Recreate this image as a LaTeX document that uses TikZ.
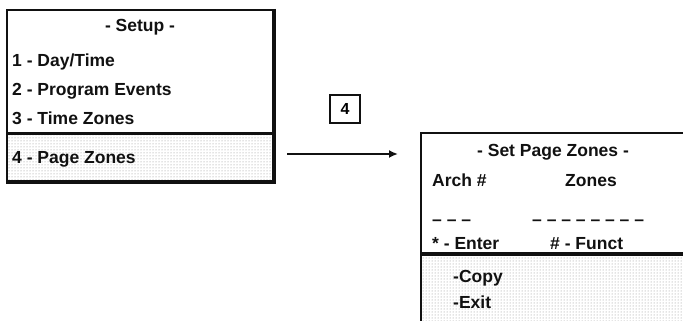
\documentclass[tikz,border=0pt]{standalone}
\usepackage{fontspec}
\setmainfont{Liberation Sans}
\usetikzlibrary{positioning,arrows.meta,patterns}
\definecolor{ink}{HTML}{111111}
\definecolor{dotgray}{HTML}{8A8A8A}

\begin{document}
\begin{tikzpicture}[
  x=1pt, y=1pt,
  font=\fontsize{17.5}{21}\selectfont\bfseries,
  frame/.style={draw=ink, line width=2.4pt, inner sep=0pt},
  shade/.style={pattern=dots, pattern color=dotgray, draw=none, inner sep=0pt},
  heavy/.style={draw=ink, line width=3.8pt},
  sepline/.style={draw=ink, line width=3.2pt},
  item/.style={anchor=base west, inner sep=0pt, text=ink},
  title/.style={anchor=base, inner sep=0pt, text=ink},
  keybox/.style={draw=ink, line width=1.2pt, minimum width=30pt, minimum height=28pt, inner sep=0pt, font=\fontsize{16}{18}\selectfont\bfseries},
  arr/.style={-{Latex[length=9pt, width=8pt]}, line width=2pt, draw=ink},
]
\useasboundingbox (0,0) rectangle (683,321);
\clip (0,0) rectangle (683,321);
% setup menu
\node[shade, minimum width=266pt, minimum height=47pt] (pagerow) at (140,163.5) {};
\node[frame, minimum width=266pt, minimum height=171pt] (setup) at (140,225.5) {};
\draw[heavy] (setup.north east) -- (setup.south east) -- (setup.south west);
\draw[sepline] (pagerow.north west) -- (pagerow.north east);
\node[title] (setuptitle) at (140,289.5) {- Setup -};
\node[item] (daytime) at (12,254.5) {1 - Day/Time};
\node[item] (events) at (12,225.5) {2 - Program Events};
\node[item] (timezones) at (12,196.5) {3 - Time Zones};
\node[item] (pagezones) at (12,157.5) {4 - Page Zones};
% key press
\node[keybox] (key) at (345,212) {4};
% page zones menu
\node[shade, anchor=north west, minimum width=280pt, minimum height=80pt] (cmdrow) at (420,67) {};
\node[frame, anchor=north west, minimum width=290pt, minimum height=230pt] (zones) at (420,189) {};
\draw[sepline] (cmdrow.north west) -- (cmdrow.north east);
\node[title] (zonestitle) at (553,164.5) {- Set Page Zones -};
\node[item] (arch) at (432,134.5) {Arch \#};
\node[item] (zonescol) at (565,134.5) {Zones};
\node[item] (archdash) at (432,95) {– – –};
\node[item] (zonedash) at (532,95) {– – – – – – – –};
\node[item] (enter) at (432,71.5) {* - Enter};
\node[item] (funct) at (550,71.5) {\# - Funct};
\node[item] (copy) at (453,38.5) {-Copy};
\node[item] (exit) at (453,12.5) {-Exit};
\coordinate (arrstart) at (287,167);
\draw[arr, shorten >=22pt] (arrstart) -- (arrstart -| zones.west);
\end{tikzpicture}
\end{document}
